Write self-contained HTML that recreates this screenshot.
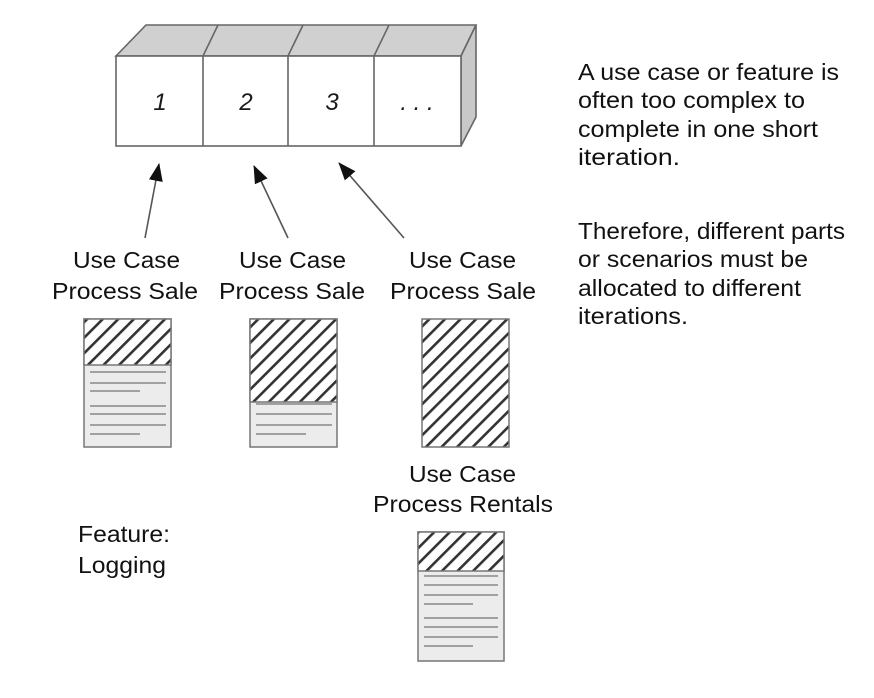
<!DOCTYPE html>
<html><head><style>body{margin:0;background:#fff}svg{display:block}</style></head><body>
<svg width="874" height="698" viewBox="0 0 874 698" xmlns="http://www.w3.org/2000/svg" font-family="Liberation Sans, sans-serif">
<defs>
<pattern id="h" patternUnits="userSpaceOnUse" width="11" height="11" patternTransform="rotate(45)">
<rect width="11" height="11" fill="#fff"/><rect x="0" y="0" width="2.6" height="11" fill="#333"/>
</pattern>
<marker id="a" markerWidth="18" markerHeight="14" refX="17" refY="7" orient="auto" markerUnits="userSpaceOnUse"><path d="M0,0 L18,7 L0,14 Z" fill="#111"/></marker>
</defs>
<g stroke="#666" stroke-width="1.6">
<polygon points="116,56 146,25 476,25 461,56" fill="#d0d0d0"/>
<polygon points="461,56 476,25 476,117 461,146" fill="#c8c8c8"/>
<rect x="116" y="56" width="345" height="90" fill="#fff"/>
<line x1="203" y1="56" x2="203" y2="146"/><line x1="288" y1="56" x2="288" y2="146"/><line x1="374" y1="56" x2="374" y2="146"/>
<line x1="203" y1="56" x2="218" y2="25"/><line x1="288" y1="56" x2="303" y2="25"/><line x1="374" y1="56" x2="389" y2="25"/>
</g>
<g font-size="24" font-style="italic" fill="#1a1a1a" text-anchor="middle">
<text x="160" y="110">1</text><text x="246" y="110">2</text><text x="332" y="110">3</text><text x="417" y="110">. . .</text>
</g>
<g stroke="#555" stroke-width="1.6" fill="none">
<line x1="145" y1="238" x2="159" y2="164" marker-end="url(#a)"/>
<line x1="288" y1="238" x2="254" y2="166" marker-end="url(#a)"/>
<line x1="404" y1="238" x2="339" y2="163" marker-end="url(#a)"/>
</g>
<g font-size="23" fill="#111">
<text x="73" y="268" textLength="107" lengthAdjust="spacingAndGlyphs">Use Case</text><text x="52" y="299" textLength="146" lengthAdjust="spacingAndGlyphs">Process Sale</text>
<text x="239" y="268" textLength="107" lengthAdjust="spacingAndGlyphs">Use Case</text><text x="219" y="299" textLength="146" lengthAdjust="spacingAndGlyphs">Process Sale</text>
<text x="409" y="268" textLength="107" lengthAdjust="spacingAndGlyphs">Use Case</text><text x="390" y="299" textLength="146" lengthAdjust="spacingAndGlyphs">Process Sale</text>
<text x="409" y="482" textLength="107" lengthAdjust="spacingAndGlyphs">Use Case</text><text x="373" y="512" textLength="180" lengthAdjust="spacingAndGlyphs">Process Rentals</text>
<text x="78" y="542" textLength="92" lengthAdjust="spacingAndGlyphs">Feature:</text><text x="78" y="573" textLength="88" lengthAdjust="spacingAndGlyphs">Logging</text>
</g>
<g font-size="23" fill="#111">
<text x="578" y="80" textLength="261" lengthAdjust="spacingAndGlyphs">A use case or feature is</text>
<text x="578" y="108" textLength="227" lengthAdjust="spacingAndGlyphs">often too complex to</text>
<text x="578" y="137" textLength="240" lengthAdjust="spacingAndGlyphs">complete in one short</text>
<text x="578" y="165" textLength="102" lengthAdjust="spacingAndGlyphs">iteration.</text>
<text x="578" y="239" textLength="267" lengthAdjust="spacingAndGlyphs">Therefore, different parts</text>
<text x="578" y="267" textLength="230" lengthAdjust="spacingAndGlyphs">or scenarios must be</text>
<text x="578" y="296" textLength="223" lengthAdjust="spacingAndGlyphs">allocated to different</text>
<text x="578" y="324" textLength="110" lengthAdjust="spacingAndGlyphs">iterations.</text>
</g>
<g stroke="#777" stroke-width="1.5">
<rect x="84" y="319" width="87" height="128" fill="#ececec"/>
<rect x="84" y="319" width="87" height="46" fill="url(#h)"/>
<rect x="250" y="319" width="87" height="128" fill="#ececec"/>
<rect x="250" y="319" width="87" height="83" fill="url(#h)"/>
<rect x="422" y="319" width="87" height="128" fill="url(#h)"/>
<rect x="418" y="532" width="86" height="129" fill="#ececec"/>
<rect x="418" y="532" width="86" height="39" fill="url(#h)"/>
</g>
<g stroke="#888" stroke-width="1.6">
<line x1="90" y1="372" x2="166" y2="372"/><line x1="90" y1="383" x2="166" y2="383"/><line x1="90" y1="391" x2="140" y2="391"/>
<line x1="90" y1="406" x2="166" y2="406"/><line x1="90" y1="414" x2="166" y2="414"/><line x1="90" y1="425" x2="166" y2="425"/><line x1="90" y1="434" x2="140" y2="434"/>
<line x1="256" y1="404" x2="332" y2="404"/><line x1="256" y1="414" x2="332" y2="414"/><line x1="256" y1="425" x2="332" y2="425"/><line x1="256" y1="434" x2="306" y2="434"/>
<line x1="424" y1="576" x2="498" y2="576"/><line x1="424" y1="585" x2="498" y2="585"/><line x1="424" y1="595" x2="498" y2="595"/><line x1="424" y1="604" x2="473" y2="604"/>
<line x1="424" y1="618" x2="498" y2="618"/><line x1="424" y1="627" x2="498" y2="627"/><line x1="424" y1="637" x2="498" y2="637"/><line x1="424" y1="646" x2="473" y2="646"/>
</g>
</svg>
</body></html>
